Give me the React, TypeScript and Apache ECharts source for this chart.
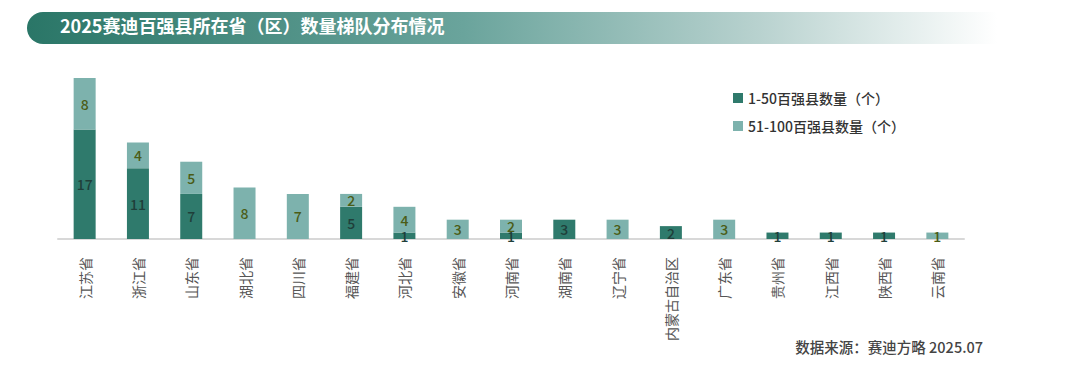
import React, { useEffect, useRef } from "react";
import * as echarts from "echarts";

const provinces = ["江苏省", "浙江省", "山东省", "湖北省", "四川省", "福建省", "河北省", "安徽省", "河南省", "湖南省", "辽宁省", "内蒙古自治区", "广东省", "贵州省", "江西省", "陕西省", "云南省"];
const top50 = [17, 11, 7, 0, 0, 5, 1, 0, 1, 3, 0, 2, 0, 1, 1, 1, 0];
const top100 = [8, 4, 5, 8, 7, 2, 4, 3, 2, 0, 3, 0, 3, 0, 0, 0, 1];
const seriesNames = ["1-50百强县数量（个）", "51-100百强县数量（个）"];
const title = "2025赛迪百强县所在省（区）数量梯队分布情况";
const source = "数据来源：赛迪方略 2025.07";

const FONT = "'Noto Sans CJK SC', 'Noto Sans', sans-serif";
const DARK = "#2f7a6c";
const LIGHT = "#7db2ad";

export default function App() {
  const ref = useRef<HTMLDivElement>(null);
  useEffect(() => {
    document.body.style.margin = "0";
    const chart = echarts.init(ref.current!, undefined, { renderer: "svg" });
    const lbl = (color: string) => ({
      show: true,
      position: "inside",
      color,
      fontSize: 14,
      fontWeight: 500,
      fontFamily: FONT,
      formatter: (p: any) => (p.value ? String(p.value) : ""),
    });
    chart.setOption({
      animation: false,
      textStyle: { fontFamily: FONT },
      graphic: [
        {
          type: "rect",
          shape: { x: 27, y: 12, width: 970, height: 32, r: [16, 0, 0, 16] },
          style: {
            fill: new echarts.graphic.LinearGradient(0, 0, 1, 0, [
              { offset: 0, color: "#2a7667" },
              { offset: 0.45, color: "#6aa49c" },
              { offset: 0.75, color: "#b7d1ce" },
              { offset: 1, color: "#ffffff" },
            ]),
          },
        },
        {
          type: "text",
          left: 60,
          top: 16,
          style: { text: title, fill: "#ffffff", font: `bold 18px ${FONT}` },
        },
        {
          type: "text",
          right: 97,
          top: 339,
          style: { text: source, fill: "#444444", font: `500 14.5px ${FONT}` },
        },
      ],
      legend: {
        orient: "vertical",
        left: 728,
        top: 86,
        itemWidth: 10,
        itemHeight: 10,
        itemGap: 14,
        icon: "rect",
        textStyle: { fontSize: 14, fontWeight: 500, color: "#333333", fontFamily: FONT },
        data: seriesNames,
      },
      grid: { left: 58, right: 116, top: 78, bottom: 127, containLabel: false },
      xAxis: {
        type: "category",
        data: provinces,
        axisLine: { lineStyle: { color: "#d8d8d8", width: 2 } },
        axisTick: { show: false },
        axisLabel: { rotate: 90, interval: 0, fontSize: 14, color: "#555555", fontFamily: FONT, margin: 18 },
      },
      yAxis: { type: "value", min: 0, max: 25, show: false, splitLine: { show: false } },
      series: [
        {
          name: seriesNames[0],
          type: "bar",
          stack: "t",
          data: top50,
          barWidth: 22,
          itemStyle: { color: DARK },
          label: lbl("#1f3f3a"),
        },
        {
          name: seriesNames[1],
          type: "bar",
          stack: "t",
          data: top100,
          barWidth: 22,
          itemStyle: { color: LIGHT },
          label: lbl("#4b5c16"),
        },
      ],
    });
    return () => chart.dispose();
  }, []);
  return <div ref={ref} style={{ width: 1080, height: 366 }} />;
}
